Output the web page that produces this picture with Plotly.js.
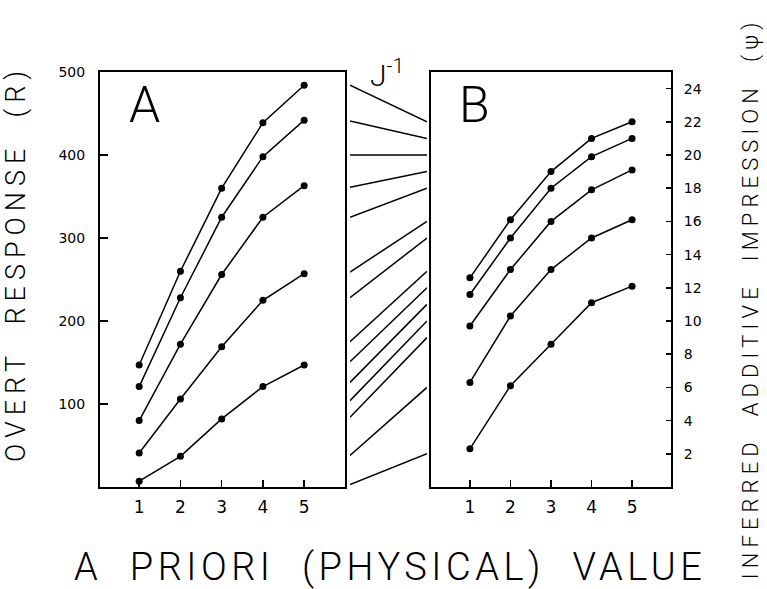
<!DOCTYPE html>
<html>
<head>
<meta charset="utf-8">
<script src="https://cdn.plot.ly/plotly-3.0.1.min.js"></script>
<style>
html,body{margin:0;padding:0;background:#fff;}
g.annotation text, g.annotation tspan {fill:#000 !important;}
g.annotation[data-index="3"] text {letter-spacing:6px;}
g.annotation[data-index="4"] text {letter-spacing:4.5px;}
g.annotation[data-index="5"] text {letter-spacing:5.1px;}
</style>
</head>
<body>
<div id="chart" style="width:767px;height:589px;"></div>
<script>
// A priori (physical) values
const physVals = [1, 2, 3, 4, 5];
const physTicks = ['1', '2', '3', '4', '5'];

// Panel A: overt response R (five rows)
const respA1 = [147, 260, 360, 439, 484];
const respA2 = [121, 228, 325, 398, 442];
const respA3 = [80, 172, 256, 325, 363];
const respA4 = [41, 106, 169, 225, 257];
const respA5 = [7, 37, 82, 121, 147];

// Panel B: inferred additive impression psi (five rows)
const psiB1 = [12.6, 16.1, 19.0, 21.0, 22.0];
const psiB2 = [11.6, 15.0, 18.0, 19.9, 21.0];
const psiB3 = [9.7, 13.1, 16.0, 17.9, 19.1];
const psiB4 = [6.3, 10.3, 13.1, 15.0, 16.1];
const psiB5 = [2.3, 6.1, 8.6, 11.1, 12.1];

// J^-1 mapping: R values (left) to psi values (right)
const mapR = [484, 441, 400, 361, 325, 259, 228, 175, 151, 126, 104, 84, 38, 3];
const mapPsi = [22, 21, 20, 19, 18, 16, 15, 13, 12, 11, 10, 9, 6, 2];
const tickR = [484, 440, 400, 360, 325, 257, 226, 170, 146, 121, 101, 81, 35, 3];

// Axis ticks
const rTicks = [100, 200, 300, 400, 500];
const psiAxisTicks = [2, 4, 6, 8, 10, 12, 14, 16, 18, 20, 22, 24];

const W = 767, H = 589;
const px = v => v / W;
const py = v => 1 - v / H;

const seriesStyle = {
  mode: 'lines+markers',
  line: {color: '#000', width: 1.5},
  marker: {color: '#000', size: 7},
  hoverinfo: 'skip'
};

const traces = [];
[respA1, respA2, respA3, respA4, respA5].forEach(r => {
  traces.push(Object.assign({x: physVals, y: r, xaxis: 'x', yaxis: 'y', type: 'scatter'}, seriesStyle));
});
[psiB1, psiB2, psiB3, psiB4, psiB5].forEach(p => {
  traces.push(Object.assign({x: physVals, y: p, xaxis: 'x2', yaxis: 'y2', type: 'scatter'}, seriesStyle));
});
// connecting lines: right end converted from psi scale (0-25) to R scale (0-500)
const psiToR = 500 / 25;
mapR.forEach((r, i) => {
  traces.push({
    x: [0, 1], y: [r, mapPsi[i] * psiToR], xaxis: 'x3', yaxis: 'y',
    type: 'scatter', mode: 'lines', line: {color: '#000', width: 1.5}, hoverinfo: 'skip'
  });
});

const tickFont = {family: 'DejaVu Sans, sans-serif', size: 14, color: '#000'};
const xTickFont = {family: 'DejaVu Sans, sans-serif', size: 17, color: '#000'};
const titleFont = {family: 'Roboto, sans-serif', weight: 300, color: '#000'};

const yDom = [py(487), py(72)];

const layout = {
  width: W, height: H,
  margin: {l: 0, r: 0, t: 0, b: 0},
  paper_bgcolor: '#fff', plot_bgcolor: 'rgba(0,0,0,0)',
  showlegend: false,
  xaxis: {
    domain: [px(100), px(345)], range: [0.05, 5.99], anchor: 'y',
    tickvals: physVals, ticktext: physTicks, ticks: 'inside', ticklen: 7, tickwidth: 1.5, tickcolor: '#000',
    showline: true, mirror: true, linewidth: 2, linecolor: '#000',
    showgrid: false, zeroline: false, tickfont: xTickFont, ticklabelstandoff: 4, fixedrange: true
  },
  yaxis: {
    domain: yDom, range: [0, 500], anchor: 'x',
    tickvals: rTicks, ticktext: rTicks.map(String), ticks: 'inside', ticklen: 8, tickwidth: 1.5, tickcolor: '#000',
    showline: true, mirror: true, linewidth: 2, linecolor: '#000',
    showgrid: false, zeroline: false, tickfont: tickFont, ticklabelstandoff: 10, fixedrange: true
  },
  yaxis3: {
    overlaying: 'y', side: 'right', anchor: 'x', range: [0, 500],
    tickvals: tickR, ticks: 'inside', ticklen: 7, tickwidth: 1.5, tickcolor: '#000',
    showticklabels: false, showline: false, showgrid: false, zeroline: false, fixedrange: true
  },
  xaxis2: {
    domain: [px(431), px(671)], range: [0.04, 5.96], anchor: 'y2',
    tickvals: physVals, ticktext: physTicks, ticks: 'inside', ticklen: 7, tickwidth: 1.5, tickcolor: '#000',
    showline: true, mirror: true, linewidth: 2, linecolor: '#000',
    showgrid: false, zeroline: false, tickfont: xTickFont, ticklabelstandoff: 4, fixedrange: true
  },
  yaxis2: {
    domain: yDom, range: [0, 25], anchor: 'x2', side: 'right',
    tickvals: psiAxisTicks, ticktext: psiAxisTicks.map(String), ticks: 'inside', ticklen: 5, tickwidth: 1.5, tickcolor: '#000',
    showline: true, mirror: true, linewidth: 2, linecolor: '#000',
    showgrid: false, zeroline: false, tickfont: tickFont, ticklabelstandoff: 8, fixedrange: true
  },
  yaxis4: {
    overlaying: 'y2', side: 'left', anchor: 'x2', range: [0, 25],
    tickvals: mapPsi, ticks: 'inside', ticklen: 7, tickwidth: 1.5, tickcolor: '#000',
    showticklabels: false, showline: false, showgrid: false, zeroline: false, fixedrange: true
  },
  xaxis3: {
    domain: [px(350), px(427)], range: [0, 1], anchor: 'y', visible: false, fixedrange: true
  },
  annotations: [
    {text: 'A', xref: 'paper', yref: 'paper', x: px(144), y: py(105), showarrow: false,
     xanchor: 'center', yanchor: 'middle', font: Object.assign({size: 50}, titleFont)},
    {text: 'B', xref: 'paper', yref: 'paper', x: px(474), y: py(105), showarrow: false,
     xanchor: 'center', yanchor: 'middle', font: Object.assign({size: 50}, titleFont)},
    {text: 'J<sup>-1</sup>', xref: 'paper', yref: 'paper', x: px(387), y: py(74), showarrow: false,
     xanchor: 'center', yanchor: 'middle', font: Object.assign({size: 30}, titleFont)},
    {text: 'OVERT\u00a0 RESPONSE\u00a0 (R)', xref: 'paper', yref: 'paper', x: px(16), y: py(264), showarrow: false,
     textangle: -90, xanchor: 'center', yanchor: 'middle', font: Object.assign({size: 27}, titleFont)},
    {text: 'A\u00a0 PRIORI\u00a0 (PHYSICAL)\u00a0 VALUE', xref: 'paper', yref: 'paper', x: px(390), y: py(567), showarrow: false,
     xanchor: 'center', yanchor: 'middle', font: Object.assign({size: 38}, titleFont)},
    {text: 'INFERRED\u00a0 ADDITIVE\u00a0 IMPRESSION\u00a0 (\u03c8)', xref: 'paper', yref: 'paper', x: px(751), y: py(299), showarrow: false,
     textangle: -90, xanchor: 'center', yanchor: 'middle', font: Object.assign({size: 22}, titleFont)}
  ]
};

Plotly.newPlot('chart', traces, layout, {displayModeBar: false, staticPlot: true});
</script>
</body>
</html>
